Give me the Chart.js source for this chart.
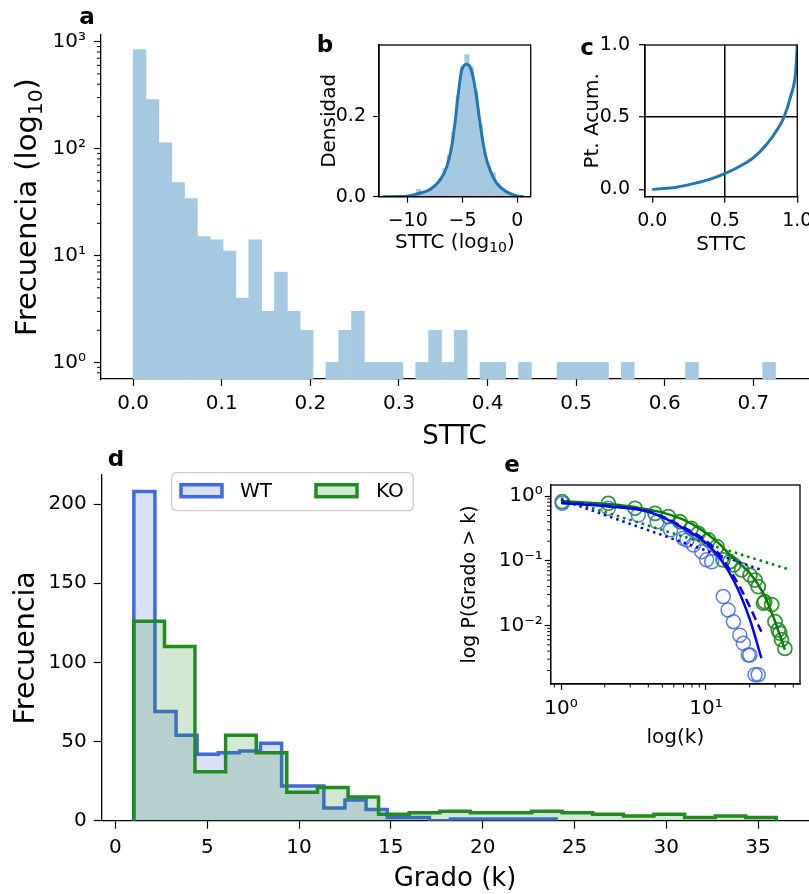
<!DOCTYPE html>
<html>
<head>
<meta charset="utf-8">
<script src="https://cdn.jsdelivr.net/npm/chart.js@4.4.1/dist/chart.umd.min.js"></script>
<style>
body { margin: 0; background: #fff; }
#fig { position: relative; width: 809px; height: 894px; overflow: hidden; background: #fff; }
#fig canvas { position: absolute; }
</style>
</head>
<body>
<div id="fig">
<canvas id="chartA" width="809" height="455" style="left:0px;top:0px"></canvas>
<canvas id="chartB" width="255" height="245" style="left:300px;top:25px"></canvas>
<canvas id="chartC" width="249" height="245" style="left:560px;top:25px"></canvas>
<canvas id="chartD" width="809" height="444" style="left:0px;top:450px"></canvas>
<canvas id="chartE" width="369" height="290" style="left:440px;top:470px"></canvas>
</div>
<script>

// ---- panel a : STTC histogram (log counts)
const sttcBinWidth = 0.0145
const sttcCounts = [845, 287, 113, 48, 34, 15, 14, 11, 4, 14, 3, 7, 3, 2, 0, 1, 2, 3, 1, 1,
  1, 0, 1, 2, 1, 2, 0, 1, 1, 0, 1, 0, 0, 1, 1, 1, 1, 0, 1, 0,
  0, 0, 0, 1, 0, 0, 0, 0, 0, 1]
const aXTicks = [0, 0.1, 0.2, 0.3, 0.4, 0.5, 0.6, 0.7]
const aYTicks = [1, 10, 100, 1000]

// ---- panel b : STTC (log10) density
const logBinCenters = [-11.8, -11.4, -11.0, -10.6, -10.2, -9.8, -9.4, -9.0, -8.6, -8.2,
  -7.8, -7.4, -7.0, -6.6, -6.2, -5.8, -5.4, -5.0, -4.6, -4.2,
  -3.8, -3.4, -3.0, -2.6, -2.2, -1.8, -1.4, -1.0, -0.6, -0.2]
const logDensity = [0, 0, 0.001, 0.001, 0.002, 0.003, 0.006, 0.018, 0.012, 0.015,
  0.021, 0.03, 0.045, 0.07, 0.103, 0.16, 0.25, 0.32, 0.352, 0.322,
  0.262, 0.178, 0.11, 0.075, 0.06, 0.034, 0.02, 0.012, 0.006, 0.002]
const kdeX = [-12.3, -11, -10.1, -9.0, -7.96, -7.05, -6.44, -5.99, -5.69, -5.38, -5.07, -4.62,
  -4.16, -3.77, -3.4, -2.95, -2.49, -1.88, -0.97, -0.06, 0.55]
const kdeY = [0, 0.0005, 0.001, 0.008, 0.018, 0.041, 0.074, 0.124, 0.182, 0.256, 0.314, 0.328,
  0.31, 0.256, 0.182, 0.107, 0.066, 0.033, 0.012, 0.002, 0]
const bXTicks = [-10, -5, 0]
const bYTicks = [0, 0.2]

// ---- panel c : cumulative
const cdfX = [0, 0.166, 0.281, 0.396, 0.5, 0.604, 0.696, 0.788, 0.862, 0.908, 0.954, 0.988, 1.0]
const cdfY = [0, 0.016, 0.04, 0.07, 0.11, 0.161, 0.219, 0.311, 0.415, 0.5, 0.645, 0.807, 1.0]
const cTicks = [0, 0.5, 1]

// ---- panel d : degree histograms
const wtEdges = [1, 2.15, 3.3, 4.45, 5.6, 6.75, 7.9, 9.05, 10.2, 11.35, 12.5, 13.65, 14.8,
  15.95, 17.1, 18.25, 19.4, 20.55, 21.7, 22.85, 24]
const wtCounts = [208, 69, 54, 42, 43, 44, 49, 22, 22, 8, 13, 7, 2, 2, 0, 1, 1, 1, 1, 1]
const koEdges = [1, 2.67, 4.33, 6, 7.67, 9.33, 11, 12.67, 14.33, 16, 17.67, 19.33, 21,
  22.67, 24.33, 26, 27.67, 29.33, 31, 32.67, 34.33, 36]
const koCounts = [126, 110, 31, 54, 43, 18, 21, 15, 4, 5, 6, 5, 5, 6, 5, 4, 3, 4, 2, 3, 2]
const dXTicks = [0, 5, 10, 15, 20, 25, 30, 35]
const dYTicks = [0, 50, 100, 150, 200]

// ---- panel e : P(Grado > k)
const wtK = [1.02, 2.12, 3.41, 4.6, 5.7, 6.98, 7.4, 8.2, 9.33, 10.1, 10.95, 13.15, 14.2, 15.46,
  17.1, 18.1, 19.57, 20.1, 21.8, 22.9]
const wtP = [0.77, 0.646, 0.509, 0.4, 0.3, 0.222, 0.209, 0.175, 0.138, 0.103, 0.0964, 0.0279,
  0.0173, 0.0114, 0.00705, 0.00528, 0.00348, 0.00348, 0.00173, 0.00173]
const koK = [1.02, 2.12, 3.24, 4.45, 5.5, 6.61, 7.9, 8.85, 10.4, 11.9, 13.1, 14.6, 15.5, 17.6,
  20.1, 21.8, 22.9, 24.9, 25.4, 28.4, 29.9, 31.5, 32.3, 33.2, 35.0]
const koP = [0.816, 0.771, 0.646, 0.54, 0.48, 0.4, 0.316, 0.265, 0.209, 0.165, 0.103, 0.0964,
  0.086, 0.072, 0.06, 0.05, 0.0396, 0.022, 0.0232, 0.021, 0.0114, 0.0085, 0.0076, 0.006, 0.0044]
const wtTruncK = [1, 2.12, 4.1, 6.98, 10.95, 15.46, 20.1, 24.1]
const wtTruncP = [0.78, 0.69, 0.56, 0.316, 0.155, 0.0503, 0.0122, 0.0031]
const wtLognK = [1, 2.12, 4.1, 6.98, 10.95, 14.6, 18.1, 24.1]
const wtLognP = [0.79, 0.7, 0.57, 0.33, 0.17, 0.072, 0.031, 0.008]
const wtPowK = [1, 24.1]
const wtPowP = [0.88, 0.072]
const koTruncK = [1, 3.15, 6.98, 11.9, 15.46, 20.1, 24.9, 29.1, 35]
const koTruncP = [0.84, 0.68, 0.43, 0.197, 0.109, 0.064, 0.031, 0.0137, 0.0042]
const koPowK = [1, 36.8]
const koPowP = [0.92, 0.074]
const eXTicks = [1, 10]
const eYTicks = [0.01, 0.1, 1]


Chart.defaults.font.family = '"DejaVu Sans", sans-serif'
Chart.defaults.color = '#000'
Chart.defaults.animation = false
Chart.defaults.events = []
Chart.defaults.plugins.legend.display = false
Chart.defaults.plugins.tooltip.enabled = false

const barBlue = '#a5c9e1'   // tab:blue at alpha 0.4 on white

const pts = (xs, ys) => xs.map((x, i) => ({x: x, y: ys[i]}))

// matplotlib style step outline for a histogram
function stepPoints(edges, counts) {
  const p = [{x: edges[0], y: 0}]
  counts.forEach((c, i) => p.push({x: edges[i], y: c}))
  p.push({x: edges[edges.length - 1], y: 0})
  return p
}

function logMinors(lo, hi) {
  const out = []
  for (let e = Math.floor(Math.log10(lo)); e <= Math.ceil(Math.log10(hi)); e++) {
    for (let d = 2; d <= 9; d++) {
      const v = d * Math.pow(10, e)
      if (v >= lo && v <= hi) out.push(v)
    }
  }
  return out
}

const supChars = {'-': '\u207B', '0': '\u2070', '1': '\u00B9', '2': '\u00B2', '3': '\u00B3'}
const powLabel = v => '10' + String(Math.round(Math.log10(v))).split('').map(c => supChars[c]).join('')
const minusLabel = v => v < 0 ? '\u2212' + (-v) : String(v)

function axis(o) {
  return {
    type: o.type || 'linear',
    min: o.min,
    max: o.max,
    offset: false,
    afterBuildTicks: s => { s.ticks = o.ticks.map(v => ({value: v})) },
    afterFit: s => {
      if (s.isHorizontal()) { s.height = o.size; s.paddingLeft = 0; s.paddingRight = 0 }
      else { s.width = o.size; s.paddingTop = 0; s.paddingBottom = 0 }
    },
    ticks: {callback: o.fmt, font: {size: o.tickSize}, padding: o.pad, maxRotation: 0, minRotation: 0, autoSkip: false},
    grid: o.grid || {drawOnChartArea: false, tickLength: o.tl, tickColor: '#000', tickWidth: 1.2, offset: false},
    border: {color: '#000', width: 1.3},
    title: {display: !!o.title, text: o.title, font: {size: o.titleSize, lineHeight: 1}, padding: o.titlePad}
  }
}

// short minor tick marks, placed with the chart's own scales
function minorTicks(list, len) {
  return {
    id: 'minorTicks',
    afterDraw(chart) {
      const ctx = chart.ctx
      ctx.save()
      ctx.strokeStyle = '#000'
      ctx.lineWidth = 1
      Object.keys(list).forEach(id => {
        const s = chart.scales[id]
        list[id].forEach(v => {
          const p = s.getPixelForValue(v)
          ctx.beginPath()
          if (s.isHorizontal()) { ctx.moveTo(p, s.top); ctx.lineTo(p, s.top + len) }
          else { ctx.moveTo(s.right, p); ctx.lineTo(s.right - len, p) }
          ctx.stroke()
        })
      })
      ctx.restore()
    }
  }
}

// axis title with a smaller lowered part (log subscript)
function richTitle(id, scaleId, parts, size, offset) {
  return {
    id: id,
    afterDraw(chart) {
      const s = chart.scales[scaleId]
      const ctx = chart.ctx
      ctx.save()
      let total = 0
      parts.forEach(p => {
        ctx.font = (p.sub ? size * 0.7 : size) + 'px "DejaVu Sans"'
        p.w = ctx.measureText(p.t).width
        total += p.w
      })
      if (s.isHorizontal()) {
        ctx.translate((s.left + s.right) / 2, s.bottom - offset)
      } else {
        ctx.translate(s.left + offset, (s.top + s.bottom) / 2)
        ctx.rotate(-Math.PI / 2)
      }
      ctx.fillStyle = '#000'
      ctx.textBaseline = 'alphabetic'
      ctx.textAlign = 'left'
      let x = -total / 2
      parts.forEach(p => {
        ctx.font = (p.sub ? size * 0.7 : size) + 'px "DejaVu Sans"'
        ctx.fillText(p.t, x, p.sub ? size * 0.22 : 0)
        x += p.w
      })
      ctx.restore()
    }
  }
}

// four spines + white axes face
const frame = {
  id: 'frame',
  beforeDraw(chart) {
    const a = chart.chartArea
    chart.ctx.save()
    chart.ctx.fillStyle = '#fff'
    chart.ctx.fillRect(a.left, a.top, a.right - a.left, a.bottom - a.top)
    chart.ctx.restore()
  },
  afterDraw(chart) {
    const a = chart.chartArea
    const ctx = chart.ctx
    ctx.save()
    ctx.strokeStyle = '#000'
    ctx.lineWidth = 1.3
    ctx.strokeRect(a.left, a.top, a.right - a.left, a.bottom - a.top)
    ctx.restore()
  }
}

function letters(list) {
  return {
    id: 'letters',
    afterDraw(chart) {
      const ctx = chart.ctx
      ctx.save()
      ctx.font = 'bold 23px "DejaVu Sans"'
      ctx.fillStyle = '#000'
      ctx.textAlign = 'center'
      ctx.textBaseline = 'middle'
      list.forEach(l => ctx.fillText(l.t, l.x, l.y))
      ctx.restore()
    }
  }
}

function boxLegend(box, items) {
  return {
    id: 'boxLegend',
    afterDraw(chart) {
      const ctx = chart.ctx
      ctx.save()
      ctx.fillStyle = 'rgba(255,255,255,0.8)'
      ctx.strokeStyle = '#cccccc'
      ctx.lineWidth = 1.3
      ctx.beginPath()
      ctx.roundRect(box.x, box.y, box.w, box.h, 5)
      ctx.fill()
      ctx.stroke()
      items.forEach(it => {
        const ds = chart.data.datasets[it.index]
        ctx.fillStyle = '#fff'
        ctx.fillRect(it.x, box.y + 12, 41, 12)
        ctx.fillStyle = ds.backgroundColor
        ctx.fillRect(it.x, box.y + 12, 41, 12)
        ctx.strokeStyle = ds.borderColor
        ctx.lineWidth = ds.borderWidth
        ctx.strokeRect(it.x, box.y + 12, 41, 12)
        ctx.fillStyle = '#000'
        ctx.font = '20px "DejaVu Sans"'
        ctx.textBaseline = 'middle'
        ctx.textAlign = 'left'
        ctx.fillText(ds.label, it.tx, box.y + box.h / 2)
      })
      ctx.restore()
    }
  }
}


// panel a
const sttcBars = []
sttcCounts.forEach((c, i) => { if (c > 0) sttcBars.push({x: (i + 0.5) * sttcBinWidth, y: c}) })

new Chart(document.getElementById('chartA'), {
  type: 'bar',
  data: {
    datasets: [{
      data: sttcBars,
      backgroundColor: barBlue,
      borderWidth: 0,
      barPercentage: 1,
      categoryPercentage: 1
    }]
  },
  options: {
    responsive: false,
    layout: {padding: {left: 0, right: 1, top: 35, bottom: 0}},
    scales: {
      x: axis({min: -0.0363, max: 0.7617, ticks: aXTicks, fmt: v => v.toFixed(1), size: 76,
        tickSize: 20, pad: 6, tl: 7, title: 'STTC', titleSize: 26, titlePad: {top: 0, bottom: 5}}),
      y: axis({type: 'logarithmic', min: 0.714, max: 1154, ticks: aYTicks, fmt: powLabel, size: 101,
        tickSize: 20, pad: 8, tl: 7})
    }
  },
  plugins: [minorTicks({y: logMinors(0.714, 1154)}, 4),
    richTitle('yTitle', 'y', [{t: 'Frecuencia (log'}, {t: '10', sub: true}, {t: ')'}], 29, 35.5),
    letters([{t: 'a', x: 87, y: 18}, {t: 'b', x: 325, y: 46}, {t: 'c', x: 587, y: 49}])]
})

// panel b
new Chart(document.getElementById('chartB'), {
  type: 'bar',
  data: {
    datasets: [{
      type: 'line',
      data: pts(kdeX, kdeY),
      borderColor: '#1f77b4',
      borderWidth: 3,
      pointRadius: 0,
      cubicInterpolationMode: 'monotone',
      order: 0
    }, {
      data: pts(logBinCenters, logDensity),
      backgroundColor: barBlue,
      borderWidth: 0,
      barPercentage: 1,
      categoryPercentage: 1,
      order: 1
    }]
  },
  options: {
    responsive: false,
    layout: {padding: {left: 0, right: 24.3, top: 20, bottom: 0}},
    scales: {
      x: axis({min: -12.62, max: 1.22, ticks: bXTicks, fmt: minusLabel, size: 73.3,
        tickSize: 19, pad: 7, tl: 6}),
      y: axis({min: 0, max: 0.376, ticks: bYTicks, fmt: v => v.toFixed(1), size: 79,
        tickSize: 19, pad: 7, tl: 6, title: 'Densidad', titleSize: 20, titlePad: {top: 19.4, bottom: 0}})
    }
  },
  plugins: [frame, richTitle('xTitle', 'x', [{t: 'STTC (log'}, {t: '10', sub: true}, {t: ')'}], 20, 22.2)]
})

// panel c
const halfLines = {
  drawOnChartArea: true,
  color: c => c.tick && c.tick.value === 0.5 ? '#000' : 'rgba(0,0,0,0)',
  lineWidth: 1.5,
  tickLength: 6, tickColor: '#000', tickWidth: 1.2, offset: false
}

new Chart(document.getElementById('chartC'), {
  type: 'line',
  data: {
    datasets: [{
      data: pts(cdfX, cdfY),
      borderColor: '#1f77b4',
      borderWidth: 3,
      pointRadius: 0,
      cubicInterpolationMode: 'monotone'
    }]
  },
  options: {
    responsive: false,
    layout: {padding: {left: 0, right: 11.7, top: 20, bottom: 0}},
    scales: {
      x: axis({min: -0.05, max: 1.0, ticks: cTicks, fmt: v => v.toFixed(1), size: 73.3, grid: halfLines,
        tickSize: 19, pad: 7, tl: 6, title: 'STTC', titleSize: 20, titlePad: {top: 0, bottom: 15.3}}),
      y: axis({min: -0.05, max: 1.0, ticks: cTicks, fmt: v => v.toFixed(1), size: 85, grid: halfLines,
        tickSize: 19, pad: 9, tl: 6, title: 'Pt. Acum.', titleSize: 20, titlePad: {top: 22.7, bottom: 0}})
    }
  },
  plugins: [frame]
})

// panel d
new Chart(document.getElementById('chartD'), {
  type: 'line',
  data: {
    datasets: [{
      label: 'WT',
      data: stepPoints(wtEdges, wtCounts),
      stepped: true,
      fill: 'origin',
      backgroundColor: 'rgba(65,105,225,0.2)',
      borderColor: '#4169e1',
      borderWidth: 3.5,
      pointRadius: 0,
      order: 1
    }, {
      label: 'KO',
      data: stepPoints(koEdges, koCounts),
      stepped: true,
      fill: 'origin',
      backgroundColor: 'rgba(34,139,34,0.2)',
      borderColor: '#228b22',
      borderWidth: 3.5,
      pointRadius: 0,
      order: 0
    }]
  },
  options: {
    responsive: false,
    layout: {padding: {left: 0, right: 0.5, top: 25, bottom: 0}},
    scales: {
      x: axis({min: -0.75, max: 37.75, ticks: dXTicks, fmt: v => String(v), size: 73.3,
        tickSize: 20, pad: 6.6, tl: 8, title: 'Grado (k)', titleSize: 26, titlePad: {top: 0, bottom: 2}}),
      y: axis({min: 0, max: 218.4, ticks: dYTicks, fmt: v => String(v), size: 101.7,
        tickSize: 20, pad: 7, tl: 8, title: 'Frecuencia', titleSize: 28.5, titlePad: {top: 12, bottom: 0}})
    }
  },
  plugins: [boxLegend({x: 171.7, y: 22.7, w: 241.6, h: 38}, [{index: 0, x: 181, tx: 240}, {index: 1, x: 316, tx: 376}]),
    letters([{t: 'd', x: 116, y: 10}, {t: 'e', x: 512, y: 16}])]
})

// panel e
const lineDs = (k, p, color, dash) => ({
  data: pts(k, p), borderColor: color, borderWidth: 2.5, borderDash: dash,
  pointRadius: 0, cubicInterpolationMode: 'monotone', order: 0
})

new Chart(document.getElementById('chartE'), {
  type: 'line',
  data: {
    datasets: [{
      data: pts(wtK, wtP), showLine: false, pointRadius: 7, pointBorderWidth: 1.5,
      pointBorderColor: 'rgba(65,105,225,0.85)', pointBackgroundColor: 'rgba(0,0,0,0)', order: 1
    }, {
      data: pts(koK, koP), showLine: false, pointRadius: 7, pointBorderWidth: 1.8,
      pointBorderColor: 'rgba(34,139,34,0.9)', pointBackgroundColor: 'rgba(0,0,0,0)', order: 1
    },
    lineDs(wtTruncK, wtTruncP, '#0000ff', []),
    lineDs(wtLognK, wtLognP, '#0000ff', [9, 5]),
    lineDs(wtPowK, wtPowP, '#0000ff', [2.5, 4]),
    lineDs(koTruncK, koTruncP, '#008000', []),
    lineDs(koPowK, koPowP, '#008000', [2.5, 4])]
  },
  options: {
    responsive: false,
    layout: {padding: {left: 0, right: 9, top: 15, bottom: 0}},
    scales: {
      x: axis({type: 'logarithmic', min: 0.849, max: 44.5, ticks: eXTicks, fmt: powLabel, size: 76,
        tickSize: 20, pad: 7, tl: 6, title: 'log(k)', titleSize: 20, titlePad: {top: 0, bottom: 12}}),
      y: axis({type: 'logarithmic', min: 0.00124, max: 1.48, ticks: eYTicks, fmt: powLabel, size: 110.7,
        tickSize: 20, pad: 2, tl: 6, title: 'log P(Grado > k)', titleSize: 19, titlePad: {top: 20.5, bottom: 0}})
    }
  },
  plugins: [frame, minorTicks({x: logMinors(0.849, 44.5), y: logMinors(0.00124, 1.48)}, 3.5)]
})

</script>
</body>
</html>
